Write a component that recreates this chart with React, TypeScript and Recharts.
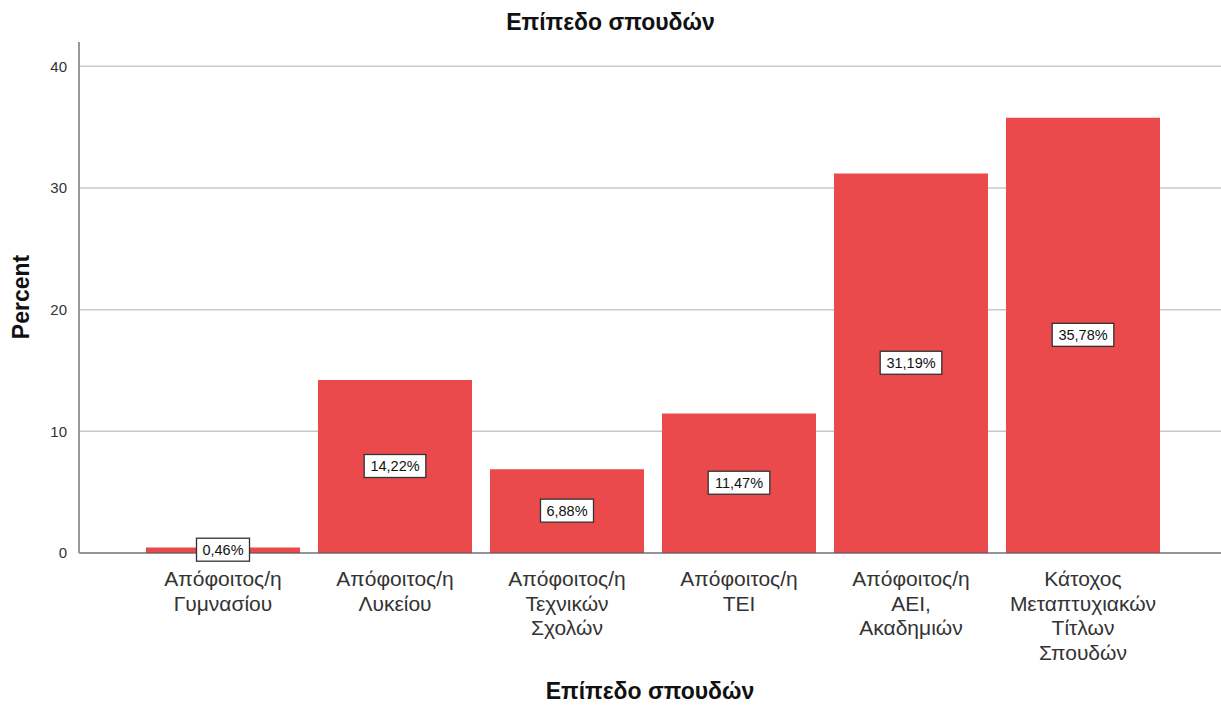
import { Bar, BarChart, CartesianGrid, LabelList, XAxis, YAxis } from "recharts";

const categories = [
  "Απόφοιτος/η\nΓυμνασίου",
  "Απόφοιτος/η\nΛυκείου",
  "Απόφοιτος/η\nΤεχνικών\nΣχολών",
  "Απόφοιτος/η\nΤΕΙ",
  "Απόφοιτος/η\nΑΕΙ,\nΑκαδημιών",
  "Κάτοχος\nΜεταπτυχιακών\nΤίτλων\nΣπουδών",
];
const percents = [0.46, 14.22, 6.88, 11.47, 31.19, 35.78];
const yTicks = [0, 10, 20, 30, 40];
const Y_MAX = 42;

const data = categories.map((name, i) => ({ name, value: percents[i] }));

const FONT = "'Liberation Sans', Arial, sans-serif";

function CategoryTick({ x, y, payload }: any) {
  const lines = String(payload.value).split("\n");
  return (
    <text x={x} y={y + 25} textAnchor="middle" fontSize={21} fill="#333" fontFamily={FONT}>
      {lines.map((line, i) => (
        <tspan key={i} x={x} dy={i === 0 ? 0 : 24.5}>
          {line}
        </tspan>
      ))}
    </text>
  );
}

function BoxLabel({ x, y, width, height, value }: any) {
  const text = value.toFixed(2).replace(".", ",") + "%";
  const w = text.length * 8.6 + 10;
  const cx = x + width / 2;
  const cy = y + height / 2;
  return (
    <g>
      <rect x={cx - w / 2} y={cy - 12} width={w} height={23} fill="#fff" stroke="#333" strokeWidth={1.3} />
      <text x={cx} y={cy + 5} textAnchor="middle" fontSize={14.5} fill="#111" fontFamily={FONT}>
        {text}
      </text>
    </g>
  );
}

// grid only at the tick values, no line at the top of the domain
const gridLines = ({ offset }: any) =>
  yTicks.map((t) => offset.top + offset.height * (1 - t / Y_MAX));

export default function App() {
  return (
    <div style={{ position: "absolute", left: 0, top: 0, width: 1221, height: 706, fontFamily: FONT }}>
      <div style={{ position: "absolute", top: 9, left: 0, width: 1221, textAlign: "center", fontSize: 23, fontWeight: "bold", color: "#111" }}>
        Επίπεδο σπουδών
      </div>
      <div style={{ position: "absolute", top: 678, left: 79, width: 1142, textAlign: "center", fontSize: 23, fontWeight: "bold", color: "#111" }}>
        Επίπεδο σπουδών
      </div>
      <div
        style={{
          position: "absolute",
          left: 21,
          top: 297,
          transform: "translate(-50%, -50%) rotate(-90deg)",
          fontSize: 23,
          fontWeight: "bold",
          color: "#111",
          whiteSpace: "nowrap",
        }}
      >
        Percent
      </div>
      <BarChart width={1221} height={706} data={data} margin={{ top: 42, right: 0, left: 0, bottom: 0 }}>
        <CartesianGrid
          vertical={false}
          horizontalCoordinatesGenerator={gridLines}
          stroke="#c8c8c8"
          strokeWidth={1.5}
        />
        <XAxis
          dataKey="name"
          height={153}
          interval={0}
          tick={<CategoryTick />}
          tickLine={false}
          axisLine={{ stroke: "#555", strokeWidth: 1.2 }}
          padding={{ left: 58, right: 52 }}
        />
        <YAxis
          width={79}
          domain={[0, Y_MAX]}
          ticks={yTicks}
          allowDataOverflow
          tickLine={false}
          axisLine={{ stroke: "#999", strokeWidth: 2 }}
          tick={{ fontSize: 15, fill: "#333", fontFamily: FONT }}
          tickMargin={6}
        />
        <Bar dataKey="value" fill="#ea4a4b" barSize={154} isAnimationActive={false}>
          <LabelList dataKey="value" content={<BoxLabel />} />
        </Bar>
      </BarChart>
    </div>
  );
}
